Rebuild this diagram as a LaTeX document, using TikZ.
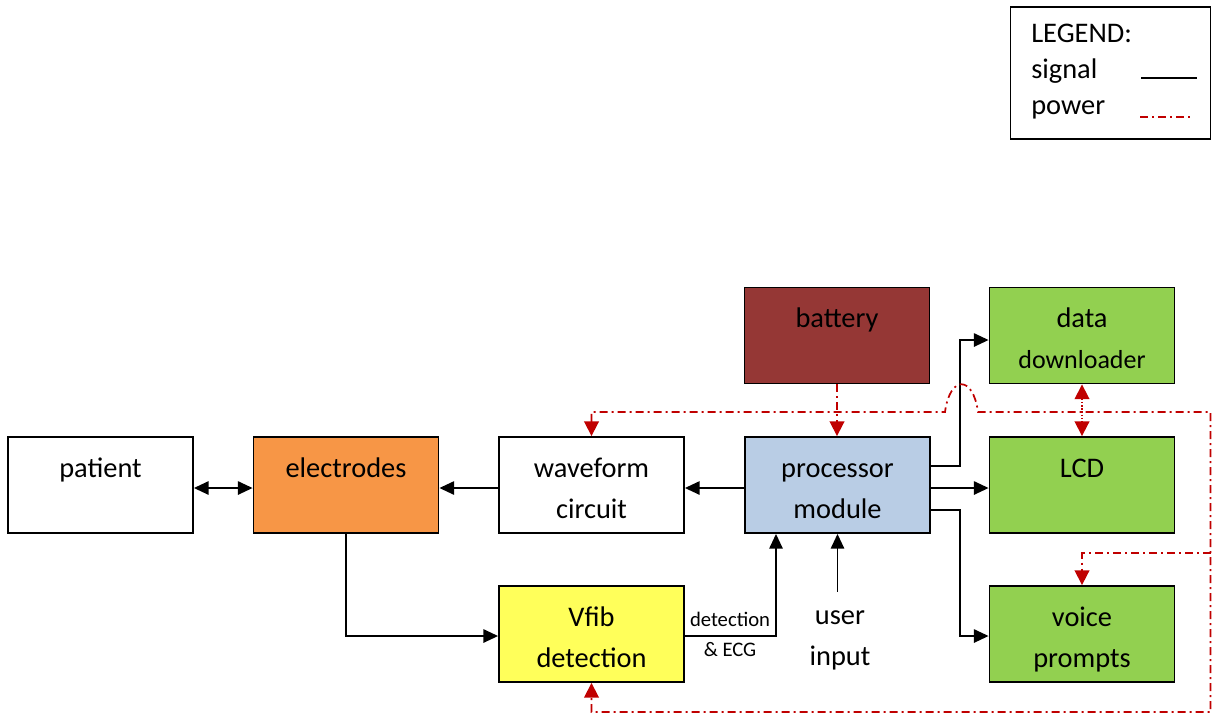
\documentclass[tikz,border=0pt]{standalone}
\usepackage{fontspec}
\setmainfont{Carlito}
\usetikzlibrary{arrows.meta,calc}
\definecolor{elecorange}{HTML}{F79646}
\definecolor{procblue}{HTML}{B9CDE5}
\definecolor{battred}{HTML}{953735}
\definecolor{outgreen}{HTML}{92D050}
\definecolor{vfibyellow}{HTML}{FFFF5A}
\definecolor{powred}{HTML}{C00000}
\newcommand\tstrut{\rule[-5.25pt]{0pt}{29.25pt}}
\begin{document}
\begin{tikzpicture}[x=0.75pt,y=-0.75pt,
  box/.style={draw=black,line width=1.4pt,minimum width=138.75pt,minimum height=72pt,
    inner sep=0pt,align=center,font=\fontsize{21.3}{30.75}\selectfont},
  txt/.style={inner sep=0pt,align=center,font=\fontsize{21.3}{30.75}\selectfont},
  sig/.style={draw=black,line width=1.3pt},
  sigtip/.tip={Triangle[length=11pt,width=10pt]},
  power/.style={draw=powred,line width=1.3pt,dash pattern=on 6pt off 3pt on 1.5pt off 3pt},
  powerdot/.style={draw=powred,line width=1.3pt,dash pattern=on 1.2pt off 1.2pt},
  powtip/.tip={Triangle[length=11pt,width=11pt]}
]
\useasboundingbox (0,0) rectangle (1212,715);

% legend
\node[draw=black,line width=1.2pt,minimum width=150pt,minimum height=99pt,inner sep=0pt] (legend) at (1110.5,73) {};
\node[anchor=west,inner sep=0pt,align=left,font=\fontsize{21.3}{27}\selectfont] (legtext) at (1031,72) {LEGEND:\\signal\\power};
\coordinate (ls1) at (1141,78);
\coordinate (ls2) at (1197,78);
\coordinate (lp1) at (1140,117);
\coordinate (lp2) at (1192,117);
\draw[sig] (ls1) -- (ls2);
\draw[power] (lp1) -- (lp2);

% boxes
\node[box] (patient) at (100.5,485) {\tstrut patient\\\tstrut};
\node[box,fill=elecorange] (electrodes) at (346,485) {\tstrut electrodes\\\tstrut};
\node[box] (waveform) at (591.5,485) {\tstrut waveform\\\tstrut circuit};
\node[box,fill=procblue] (processor) at (837.5,485) {\tstrut processor\\\tstrut module};
\node[box,fill=battred] (battery) at (837,335.5) {\tstrut battery\\\tstrut};
\node[box,fill=outgreen] (data) at (1082,335.5) {\tstrut data\\\tstrut{\fontsize{19.5}{29}\selectfont downloader}};
\node[box,fill=outgreen] (LCD) at (1082,485) {\tstrut LCD\\\tstrut};
\node[box,fill=outgreen] (voice) at (1082,634) {\tstrut voice\\\tstrut prompts};
\node[box,fill=vfibyellow] (vfib) at (591.5,634) {\tstrut Vfib\\\tstrut detection};
\node[txt] (userin) at (840,632) {\tstrut user\\\tstrut input};
\node[inner sep=0pt,align=center,font=\fontsize{15.5}{22.5}\selectfont] (det) at (730,634) {detection\\\& ECG};

% coordinates
\coordinate (r1) at (0,488);
\coordinate (jd) at (960,466);
\coordinate (jdt) at (960,340);
\coordinate (jv) at (960,510);
\coordinate (jvb) at (960,636);
\coordinate (r3) at (0,636);
\coordinate (jx) at (776,636);

% signal connectors
\draw[sig,sigtip-sigtip] (patient.east |- r1) -- (electrodes.west |- r1);
\draw[sig,-sigtip] (waveform.west |- r1) -- (electrodes.east |- r1);
\draw[sig,-sigtip] (processor.west |- r1) -- (waveform.east |- r1);
\draw[sig,-sigtip] (processor.east |- r1) -- (LCD.west |- r1);
\draw[sig,-sigtip] (processor.east |- jd) -- (jd) -- (jdt) -- (data.west |- jdt);
\draw[sig,-sigtip] (processor.east |- jv) -- (jv) -- (jvb) -- (voice.west |- jvb);
\draw[sig,-sigtip] (electrodes.south) -- (electrodes.south |- r3) -- (vfib.west |- r3);
\draw[sig,-sigtip] (vfib.east |- r3) -- (jx) -- (jx |- processor.south);
\draw[sig,-sigtip] (userin.north -| processor.south) -- (processor.south);

% power connectors
\coordinate (bl) at (592,412);
\coordinate (hl) at (945,412);
\coordinate (hr) at (978,412);
\coordinate (br) at (1210.5,412);
\coordinate (brb) at (1210.5,712);
\coordinate (bv) at (1210.5,553);
\coordinate (bvl) at (1082,553);
\draw[power,powtip-powtip] (waveform.north) -- (waveform.north |- bl) -- (hl)
  .. controls (950,375) and (973,375) .. (hr) -- (br) -- (brb) -- (vfib.south |- brb) -- (vfib.south);
\draw[power,-powtip] (bv) -- (bvl) -- (voice.north);
\draw[power,-powtip] (battery.south) -- (battery.south |- processor.north);
\draw[powerdot,powtip-powtip] (data.south) -- (LCD.north);
\end{tikzpicture}
\end{document}
